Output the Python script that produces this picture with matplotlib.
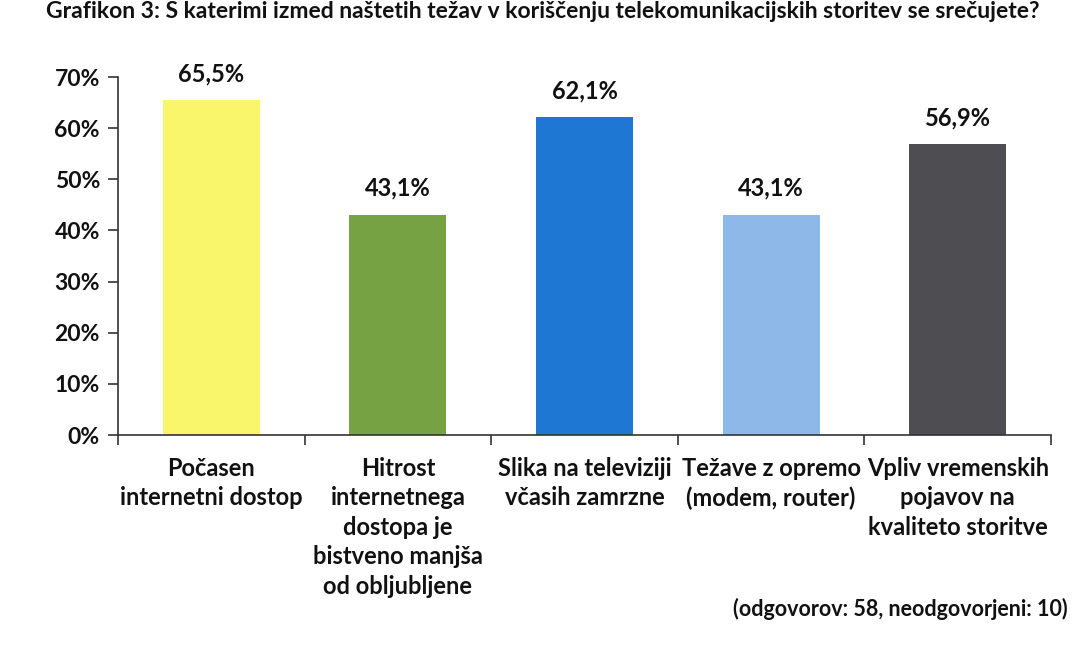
import matplotlib
matplotlib.use("Agg")
import matplotlib.pyplot as plt
from matplotlib.ticker import FuncFormatter

categories = ["Počasen\ninternetni dostop",
              "Hitrost\ninternetnega\ndostopa je\nbistveno manjša\nod obljubljene",
              "Slika na televiziji\nvčasih zamrzne",
              "Težave z opremo\n(modem, router)",
              "Vpliv vremenskih\npojavov na\nkvaliteto storitve"]
values = [65.5, 43.1, 62.1, 43.1, 56.9]
colors = ["#FAF66B", "#76A244", "#1E78D3", "#8DB8E8", "#4E4E52"]
yticks = [0, 10, 20, 30, 40, 50, 60, 70]

plt.rcParams['font.family'] = ['Lato', 'DejaVu Sans']
plt.rcParams['font.weight'] = 'bold'

fig = plt.figure(figsize=(10.86, 6.53), dpi=100)
ax = fig.add_axes([0.1087, 0.3338, 0.8591, 0.5482])

x = list(range(len(categories)))
ax.bar(x, values, width=0.52, color=colors, zorder=2)
ax.set_xlim(-0.5, len(categories) - 0.5)
ax.set_ylim(0, 70)
ax.set_yticks(yticks)
ax.yaxis.set_major_formatter(FuncFormatter(lambda v, p: f"{int(v)}%"))
ax.tick_params(axis='y', labelsize=16.5, length=7, width=1.2, color='#333333', pad=6, labelcolor='#111111')

ax.set_xticks([i - 0.5 for i in range(len(categories) + 1)])
ax.set_xticklabels([])
ax.tick_params(axis='x', length=7, width=1.2, color='#333333')
for i, c in enumerate(categories):
    ax.text(i, -4.3, c, ha='center', va='top', fontsize=17, fontweight='bold',
            color='#111111', linespacing=1.34)

for i, v in enumerate(values):
    ax.text(i, v + 2.9, f"{v:.1f}%".replace('.', ','), ha='center', va='bottom',
            fontsize=17, fontweight='bold', color='#111111')

for s in ['top', 'right']:
    ax.spines[s].set_visible(False)
for s in ['left', 'bottom']:
    ax.spines[s].set_color('#333333')
    ax.spines[s].set_linewidth(1.2)

fig.text(0.5, 0.998, "Grafikon 3: S katerimi izmed naštetih težav v koriščenju telekomunikacijskih storitev se srečujete?",
         ha='center', va='top', fontsize=16.5, fontweight='bold', color='#111111')
fig.text(0.983, 0.067, "(odgovorov: 58, neodgovorjeni: 10)", ha='right', va='center',
         fontsize=15.5, fontweight='bold', color='#111111')

fig.savefig("out.png", dpi=100)
